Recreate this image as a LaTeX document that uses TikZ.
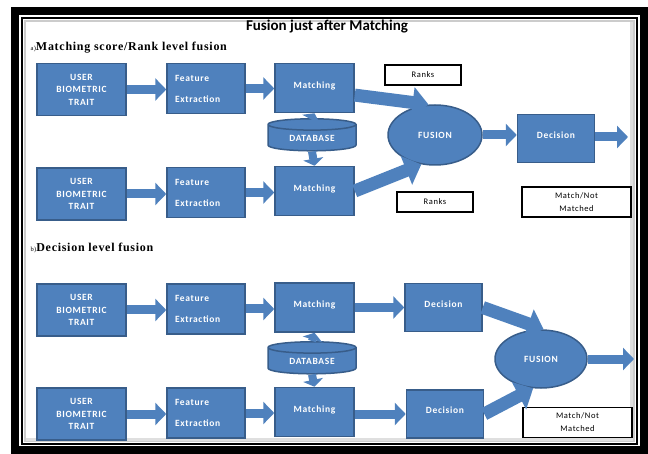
\documentclass[tikz,border=0pt]{standalone}
\usepackage{fontspec}
\setmainfont{Carlito}
\newfontfamily\boxfont{Carlito}[LetterSpace=7]
\newfontfamily\headfont{Liberation Serif}[LetterSpace=6]
\usetikzlibrary{arrows.meta, shapes.geometric, positioning}
\definecolor{OfficeBlue}{RGB}{79,129,189}
\definecolor{OfficeEdge}{RGB}{56,93,138}

\begin{document}
\begin{tikzpicture}[x=1pt, y=-1pt,
    blk/.style={draw=OfficeEdge, line width=1.5pt, fill=OfficeBlue, text=white,
      font=\boxfont\bfseries\fontsize{9.5}{12.5}\selectfont, align=center, inner sep=0pt},
    matchbox/.style={blk, minimum width=79pt, minimum height=49pt, text depth=6pt},
    userbox/.style={blk, minimum width=89pt, minimum height=52pt},
    featbox/.style={blk, minimum width=78pt, minimum height=50pt, text width=62pt,
      align=left, font=\boxfont\bfseries\fontsize{9.5}{21}\selectfont},
    decbox/.style={blk, minimum width=77pt, minimum height=48pt, text depth=7pt},
    dbase/.style={blk, cylinder, shape border rotate=90, aspect=0.25,
      minimum width=88pt, minimum height=32pt},
    fusion/.style={blk, ellipse, minimum width=94pt, minimum height=60pt},
    tag/.style={draw=black, line width=1.2pt, fill=white, align=center, inner sep=0pt,
      font=\boxfont\fontsize{8.5}{13}\selectfont},
    barrow/.style={OfficeBlue, line width=9pt, -{Triangle[length=11pt,width=22pt]}},
    bigarrow/.style={OfficeBlue, line width=13pt, -{Triangle[length=16pt,width=30pt]}},
    dbarrow/.style={OfficeBlue, line width=8pt, -{Triangle[length=7pt,width=20pt]}}]
  \useasboundingbox (0,0) rectangle (648,454);
  % frame
  \draw[line width=8pt] (15,11) rectangle (644,450);
  \draw[line width=1.5pt] (22,18) rectangle (637,444);
  \draw[gray!40, line width=2pt] (25,21) rectangle (634,441);
  \draw[gray!25, line width=3pt] (631,22) -- (631,439) -- (26,439);
  \node[font=\bfseries\fontsize{15}{17}\selectfont] (title) at (327,27) {Fusion just after Matching};

  % a) matching score / rank level fusion
  \node[anchor=west, font=\headfont\bfseries\fontsize{12}{13}\selectfont] (suba) at (27,48)
    {{\fontsize{6.5}{7}\selectfont\mdseries a)}Matching score/Rank level fusion};
  \node[userbox] (user1) at (81.5,89.5) {USER\\BIOMETRIC\\TRAIT};
  \node[featbox] (feat1) at (206,88.5) {Feature\\Extraction};
  \node[matchbox] (match1) at (314.5,88) {Matching};
  \node[dbase] (db1) at (312,138) {DATABASE};
  \node[userbox] (user2) at (81.5,194) {USER\\BIOMETRIC\\TRAIT};
  \node[featbox] (feat2) at (206,192.5) {Feature\\Extraction};
  \node[matchbox] (match2) at (314.5,191) {Matching};
  \node[fusion] (fus1) at (435,135) {FUSION};
  \node[decbox] (dec1) at (556,138.5) {Decision};
  \coordinate (out1) at (628,137);
  \node[tag, minimum width=76pt, minimum height=20pt] (rank1) at (423,75) {Ranks};
  \node[tag, minimum width=76pt, minimum height=20pt] (rank2) at (435,202) {Ranks};
  \node[tag, minimum width=109pt, minimum height=30pt] (mnm1) at (576.5,202) {Match/Not\\Matched};

  \draw[barrow] (user1) -- (feat1.west |- user1);
  \draw[barrow] (feat1) -- (match1.west |- feat1);
  \draw[barrow] (user2) -- (feat2.west |- user2);
  \draw[barrow] (feat2) -- (match2.west |- feat2);
  \draw[dbarrow] (db1.north) -- (match1.south);
  \draw[dbarrow] (db1.south) -- (match2.north);
  \draw[bigarrow] (match1.-10) -- (fus1.102);
  \draw[bigarrow] (match2.east) -- (fus1.245);
  \draw[barrow] (fus1.east) -- (dec1.west |- fus1.east);
  \draw[barrow] (dec1.east |- out1) -- (out1);

  % b) decision level fusion
  \node[anchor=west, font=\headfont\bfseries\fontsize{12}{13}\selectfont] (subb) at (27,248)
    {{\fontsize{6.5}{7}\selectfont\mdseries b)}Decision level fusion};
  \node[userbox] (user3) at (81.5,310) {USER\\BIOMETRIC\\TRAIT};
  \node[featbox] (feat3) at (206,309) {Feature\\Extraction};
  \node[matchbox] (match3) at (314.5,307.5) {Matching};
  \node[decbox] (dec3) at (443.5,307.5) {Decision};
  \node[dbase] (db2) at (312,361) {DATABASE};
  \node[userbox] (user4) at (81.5,414) {USER\\BIOMETRIC\\TRAIT};
  \node[featbox] (feat4) at (206,413) {Feature\\Extraction};
  \node[matchbox] (match4) at (314.5,412) {Matching};
  \node[decbox] (dec4) at (445,414) {Decision};
  \node[fusion, minimum width=92pt, minimum height=58pt] (fus2) at (541,359) {FUSION};
  \coordinate (out2) at (634,359);
  \node[tag, minimum width=109pt, minimum height=30pt] (mnm2) at (577.5,422.5) {Match/Not\\Matched};

  \draw[barrow] (user3) -- (feat3.west |- user3);
  \draw[barrow] (feat3) -- (match3.west |- feat3);
  \draw[barrow] (match3.east |- dec3) -- (dec3);
  \draw[barrow] (user4) -- (feat4.west |- user4);
  \draw[barrow] (feat4) -- (match4.west |- feat4);
  \draw[barrow] (match4.east |- dec4) -- (dec4);
  \draw[dbarrow] (db2.north) -- (match3.south);
  \draw[dbarrow] (db2.south) -- (match4.north);
  \draw[bigarrow] (dec3.east) -- (fus2.85);
  \draw[bigarrow] (dec4.east) -- (fus2.255);
  \draw[barrow] (fus2.east) -- (out2);
\end{tikzpicture}
\end{document}
